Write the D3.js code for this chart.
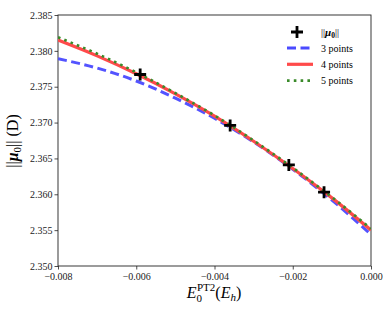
<!DOCTYPE html>
<html><head><meta charset="utf-8">
<script src="https://cdn.jsdelivr.net/npm/d3@7"></script>
<style>body{margin:0;background:#fff}svg text{font-family:"DejaVu Serif","Liberation Serif",serif}</style>
</head><body><svg id="c" width="390" height="312"></svg>
<script>
const pointsX = [-0.0059, -0.0036, -0.0021, -0.0012];
const pointsY = [2.3767, 2.3696, 2.3641, 2.3603];
const curveX = [-0.008, -0.007, -0.006, -0.005, -0.004, -0.003, -0.002, -0.001, 0.000];
const fit3 = [2.3789, 2.3776, 2.3758, 2.3734, 2.3706, 2.3673, 2.3635, 2.3592, 2.3544];
const fit4 = [2.3815, 2.3793, 2.3768, 2.3740, 2.3709, 2.3674, 2.3636, 2.3595, 2.3550];
const fit5 = [2.3819, 2.3796, 2.3770, 2.3741, 2.3710, 2.3675, 2.3637, 2.3596, 2.3552];
const xTicks = [-0.008, -0.006, -0.004, -0.002, 0.000];
const yTicks = [2.350, 2.355, 2.360, 2.365, 2.370, 2.375, 2.380, 2.385];

const svg = d3.select("#c");
const L = 58, R = 371, T = 15, B = 266;
const x = d3.scaleLinear().domain([-0.008, 0]).range([L, R]);
const y = d3.scaleLinear().domain([2.350, 2.385]).range([B, T]);
const fmtX = v => (v < 0 ? "\u2212" : "") + Math.abs(v).toFixed(3);

const xa = svg.append("g").attr("transform", `translate(0,${B})`)
  .call(d3.axisBottom(x).tickValues(xTicks).tickFormat(fmtX).tickSizeOuter(0).tickSize(3.5).tickPadding(3));
const ya = svg.append("g").attr("transform", `translate(${L},0)`)
  .call(d3.axisLeft(y).tickValues(yTicks).tickFormat(d3.format(".3f")).tickSizeOuter(0).tickSize(3.5).tickPadding(2));
[xa, ya].forEach(a => {
  a.selectAll("text").attr("font-size", 10).attr("fill", "#222").style("font-family", "Liberation Serif, serif");
  a.select(".domain").remove();
  a.selectAll("line").attr("stroke", "#222").attr("stroke-width", 0.8);
});
svg.append("rect").attr("x", L).attr("y", T).attr("width", R - L).attr("height", B - T)
  .attr("fill", "none").attr("stroke", "#222").attr("stroke-width", 0.9);

const clip = svg.append("clipPath").attr("id", "cl").append("rect")
  .attr("x", L).attr("y", T).attr("width", R - L).attr("height", B - T);
const line = d3.line().x((d, i) => x(curveX[i])).y(d => y(d)).curve(d3.curveMonotoneX);
const g = svg.append("g").attr("clip-path", "url(#cl)");
g.append("path").attr("d", line(fit3)).attr("fill", "none").attr("stroke", "#4a4aff")
  .attr("stroke-width", 3).attr("stroke-dasharray", "9,4.5").attr("opacity", 0.95);
g.append("path").attr("d", line(fit4)).attr("fill", "none").attr("stroke", "#ff4a4a")
  .attr("stroke-width", 3.2);
g.append("path").attr("d", line(fit5)).attr("fill", "none").attr("stroke", "#3a8a2a")
  .attr("stroke-width", 2.6).attr("stroke-dasharray", "2.6,4.2").attr("stroke-linecap", "butt");

const plus = (sel, cx, cy, s) => sel.append("path")
  .attr("d", `M${cx - s},${cy}H${cx + s}M${cx},${cy - s}V${cy + s}`)
  .attr("stroke", "#000").attr("stroke-width", 2.8);
pointsX.forEach((px, i) => plus(svg, x(px), y(pointsY[i]), 6));

// legend
const lg = svg.append("g");
plus(lg, 297, 32, 6);
const ent = [["3 points", "#4a4aff", "9,4.5", 3], ["4 points", "#ff4a4a", null, 3.2], ["5 points", "#3a8a2a", "2.6,4.2", 2.6]];
ent.forEach((e, i) => {
  const yy = 48 + i * 16.3;
  const l = lg.append("line").attr("x1", 287).attr("x2", 313).attr("y1", yy).attr("y2", yy)
    .attr("stroke", e[1]).attr("stroke-width", e[3]);
  if (e[2]) l.attr("stroke-dasharray", e[2]);
  lg.append("text").attr("x", 321).attr("y", yy + 3.5).attr("font-size", 10)
    .style("font-family", "Liberation Serif, serif").text(e[0]);
});
const t0 = lg.append("text").attr("x", 321).attr("y", 35.5).attr("font-size", 10).style("font-family", "Liberation Serif, serif");
t0.append("tspan").text("||");
t0.append("tspan").attr("font-weight", "bold").attr("font-style", "italic").attr("font-size", 11).text("\u03bc");
t0.append("tspan").attr("font-weight", "bold").attr("font-size", 7.5).attr("dy", 2).text("0");
t0.append("tspan").attr("dy", -2).text("||");

// axis labels
const yl = svg.append("text").attr("transform", "translate(18,141) rotate(-90)")
  .attr("text-anchor", "middle").attr("font-size", 16).style("font-family", "Liberation Serif, serif");
yl.append("tspan").text("||");
yl.append("tspan").attr("font-weight", "bold").attr("font-style", "italic").text("\u03bc");
yl.append("tspan").attr("font-size", 11).attr("dy", 3).text("0");
yl.append("tspan").attr("dy", -3).text("|| (D)");

const xl = svg.append("text").attr("x", 214).attr("y", 298).attr("text-anchor", "middle")
  .attr("font-size", 16).style("font-family", "Liberation Serif, serif");
xl.append("tspan").attr("font-style", "italic").text("E");
xl.append("tspan").attr("font-size", 11).attr("dy", 4).text("0");
xl.append("tspan").attr("font-size", 11).attr("dy", -11).attr("dx", -5).text("PT2");
xl.append("tspan").attr("dy", 7).text("(");
xl.append("tspan").attr("font-style", "italic").text("E");
xl.append("tspan").attr("font-style", "italic").attr("font-size", 11).attr("dy", 3).text("h");
xl.append("tspan").attr("dy", -3).text(")");
</script></body></html>
